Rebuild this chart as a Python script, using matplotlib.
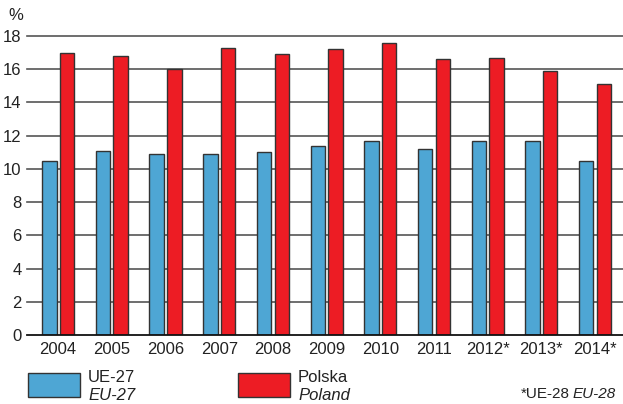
import numpy as np
import matplotlib.pyplot as plt

years = ['2004', '2005', '2006', '2007', '2008', '2009', '2010', '2011', '2012*', '2013*', '2014*']
ue27 = [10.5, 11.1, 10.9, 10.9, 11.0, 11.4, 11.7, 11.2, 11.7, 11.7, 10.5]
polska = [17.0, 16.8, 16.0, 17.3, 16.9, 17.2, 17.6, 16.6, 16.7, 15.9, 15.1]
yticks = [0, 2, 4, 6, 8, 10, 12, 14, 16, 18]

plt.rcParams['font.family'] = ['Liberation Sans Narrow', 'Liberation Sans', 'DejaVu Sans']

W, H = 623, 404
fig = plt.figure(figsize=(W / 100, H / 100), dpi=100)
ax = fig.add_axes([27 / W, (H - 335) / H, 1 - 27 / W, (335 - 36) / H])

x = np.arange(len(years))
bw = 0.27
blue = '#4EA6D4'
red = '#ED1C24'
edge = '#333333'
txt = '#222222'

for y in yticks[1:]:
    ax.axhline(y, color='#555555', lw=1.2, zorder=1, clip_on=False)
ax.axhline(0, color='#111111', lw=1.3, zorder=3, clip_on=False)

ax.bar(x - 0.165, ue27, bw, color=blue, edgecolor=edge, linewidth=1.0, zorder=2)
ax.bar(x + 0.165, polska, bw, color=red, edgecolor=edge, linewidth=1.0, zorder=2)

ax.set_xlim(-0.58, 10.52)
ax.set_ylim(0, 18)
for s in ax.spines.values():
    s.set_visible(False)
ax.set_yticks(yticks)
ax.set_yticklabels([str(v) for v in yticks], fontsize=12, color=txt)
ax.set_xticks(x)
ax.set_xticklabels(years, fontsize=12, color=txt)
ax.tick_params(axis='both', length=0)
ax.tick_params(axis='y', pad=4)
ax.tick_params(axis='x', pad=5)

fig.text(8 / W, 1 - 16 / H, '%', fontsize=12, color=txt, va='center', ha='left')

# legend
def legend_item(x0, color, top, bottom):
    fig.patches.append(plt.Rectangle((x0 / W, 1 - 397 / H), 52 / W, 24 / H,
                                     transform=fig.transFigure, facecolor=color,
                                     edgecolor=edge, linewidth=1.0))
    fig.text((x0 + 60) / W, 1 - 377 / H, top, fontsize=12, color=txt, va='center', ha='left')
    fig.text((x0 + 60) / W, 1 - 395 / H, bottom, fontsize=12, color=txt, va='center',
             ha='left', style='italic')

legend_item(28, blue, 'UE-27', 'EU-27')
legend_item(238, red, 'Polska', 'Poland')

note = fig.text(616 / W, 1 - 394 / H, 'EU-28', fontsize=11, color=txt, va='center',
                ha='right', style='italic')
fig.text(0, 0.5, '*UE-28', fontsize=11, color=txt, va='center', ha='right',
         transform=note.get_transform())
note_left = fig.texts[-1]
note_left.set_transform(fig.transFigure)
fig.canvas.draw()
bb = note.get_window_extent().transformed(fig.transFigure.inverted())
note_left.set_position((bb.x0 - 3 / W, 1 - 394 / H))

fig.savefig('out.png', dpi=100)
